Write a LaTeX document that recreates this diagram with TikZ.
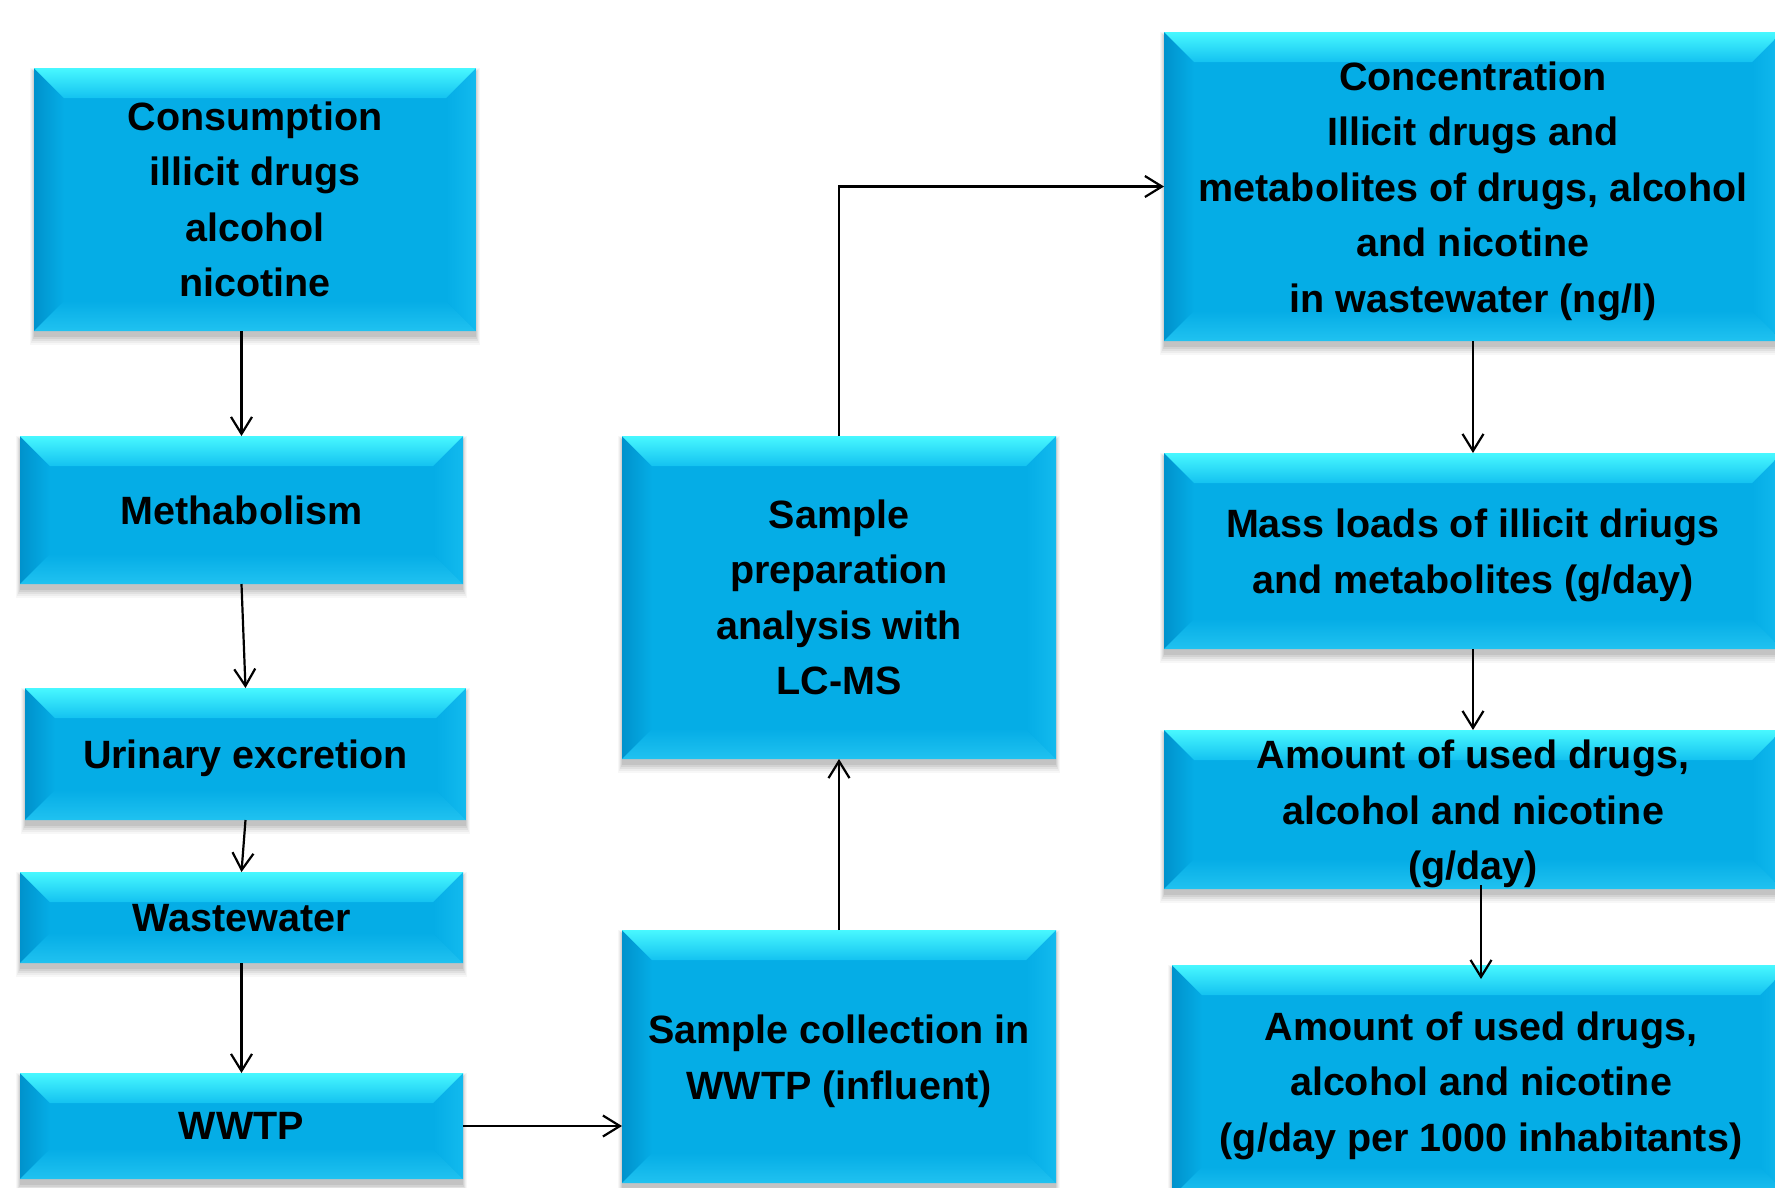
\documentclass[tikz,border=0pt]{standalone}
\usepackage{fontspec}
\setmainfont{Liberation Sans}
\usetikzlibrary{calc,arrows.meta}
\definecolor{boxmain}{HTML}{05ADE6}
\definecolor{bevtop}{HTML}{48F8FF}
\definecolor{bevtopin}{HTML}{14C2F0}
\definecolor{bevleft}{HTML}{0092CC}
\definecolor{bevright}{HTML}{12BAEE}
\definecolor{bevbot}{HTML}{20C2F0}
\tikzset{
  boxfill/.style={fill=boxmain, draw=none, inner sep=0pt, outer sep=0pt},
  txt/.style={font=\bfseries\fontsize{39.5}{55.5}\selectfont, align=center, inner sep=0pt, text=black},
  conn/.style={draw=black, line width=2.2pt, -{Straight Barb[length=17pt,width=21pt,line width=2.2pt]}},
}
\newcommand\bevelbox[5]{%
  \foreach \k/\o in {8/0.03,6/0.04,4/0.05,2/0.06,0/0.07}{
    \fill[black,opacity=\o] ({#2-#4/2-\k/2},{#3-#5/2+4-\k/2}) rectangle ({#2+#4/2+\k/2},{#3+#5/2+6+\k});
  }
  \node[boxfill, minimum width=#4pt, minimum height=#5pt] (#1) at (#2,#3) {};
  \shade[left color=bevleft, right color=boxmain]
    (#1.north west) -- ($(#1.north west)+(30,30)$) -- ($(#1.south west)+(30,-30)$) -- (#1.south west) -- cycle;
  \shade[left color=boxmain, right color=bevright]
    (#1.north east) -- ($(#1.north east)+(-30,30)$) -- ($(#1.south east)+(-30,-30)$) -- (#1.south east) -- cycle;
  \shade[top color=bevtop, bottom color=bevtopin]
    (#1.north west) -- (#1.north east) -- ($(#1.north east)+(-30,30)$) -- ($(#1.north west)+(30,30)$) -- cycle;
  \shade[top color=boxmain, bottom color=bevbot]
    (#1.south west) -- (#1.south east) -- ($(#1.south east)+(-30,-30)$) -- ($(#1.south west)+(30,-30)$) -- cycle;
}
\begin{document}
\begin{tikzpicture}[x=1pt,y=-1pt]
\useasboundingbox[fill=white] (0,0) rectangle (1775,1187);
\begin{scope}
\clip (0,0) rectangle (1775,1187);
% left column
\bevelbox{cons}{255}{199.5}{442}{263}
\bevelbox{meth}{241.5}{510}{443}{148}
\bevelbox{urin}{245.5}{754}{441}{132}
\bevelbox{waste}{241.5}{917.5}{443}{91}
\bevelbox{wwtp}{241.5}{1126}{443}{106}
% middle column
\bevelbox{prep}{839}{597.5}{434}{323}
\bevelbox{coll}{839}{1056.5}{434}{253}
% right column
\bevelbox{conc}{1473}{186.5}{618}{309}
\bevelbox{mass}{1473}{551}{618}{196}
\bevelbox{amt}{1473}{809.5}{618}{159}
\bevelbox{amtk}{1481}{1081}{618}{232}
\end{scope}
% texts
\node[txt] (consT) at (cons) {Consumption\\illicit drugs\\alcohol\\nicotine};
\node[txt] (methT) at (meth) {Methabolism};
\node[txt] (urinT) at ($(urin)+(0,4)$) {Urinary excretion};
\node[txt] (wasteT) at ($(waste)+(0,1)$) {Wastewater};
\node[txt] (wwtpT) at (wwtp) {WWTP};
\node[txt] (prepT) at (prep) {Sample\\preparation\\analysis with\\LC-MS};
\node[txt] (collT) at ($(coll)+(0,5)$) {Sample collection in\\WWTP (influent)};
\node[txt] (concT) at ($(conc)+(0,4.5)$) {Concentration\\Illicit drugs and\\metabolites of drugs, alcohol\\and nicotine\\in wastewater (ng/l)};
\node[txt] (massT) at ($(mass)+(0,4.5)$) {Mass loads of illicit driugs\\and metabolites (g/day)};
\node[txt] (amtT) at ($(amt)+(0,4.5)$) {Amount of used drugs,\\alcohol and nicotine\\(g/day)};
\node[txt] (amtkT) at ($(amtk)+(0,4.5)$) {Amount of used drugs,\\alcohol and nicotine\\(g/day per 1000 inhabitants)};
% connectors
\draw[conn] (cons.south -| meth.north) -- (meth.north);
\draw[conn] (meth.south) -- (urin.north);
\draw[conn] (urin.south) -- (waste.north);
\draw[conn] (waste.south) -- (wwtp.north);
\draw[conn] (wwtp.east) -- (wwtp.east -| coll.west);
\draw[conn] (coll.north) -- (prep.south);
\draw[conn] (prep.north) -- (prep.north |- conc.west) -- (conc.west);
\draw[conn] (conc.south) -- (mass.north);
\draw[conn] (mass.south) -- (amt.north);
\draw[conn] ($(amt.south -| amtk.north)+(0,-4)$) -- ($(amtk.north)+(0,14)$);
\end{tikzpicture}
\end{document}
